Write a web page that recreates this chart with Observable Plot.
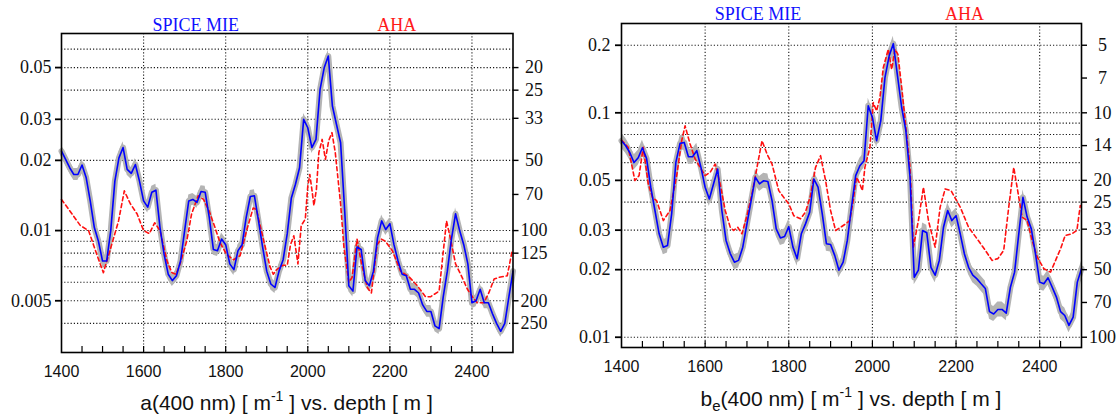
<!DOCTYPE html>
<html><head><meta charset="utf-8">
<script src="https://cdn.jsdelivr.net/npm/d3@7"></script>
<script src="https://cdn.jsdelivr.net/npm/@observablehq/plot@0.6"></script>
<style>
body{margin:0;background:#fff}
#wrap{position:relative;width:1119px;height:417px;overflow:hidden;background:#fff}
.panel{position:absolute;top:0}
.xt{position:absolute;font-family:"Liberation Sans",Arial,sans-serif;font-size:21px;line-height:21px;white-space:nowrap;transform:translateX(-50%);color:#111}
.xt sup{font-size:14px;line-height:0;position:relative;top:-9px;vertical-align:baseline}
.xt sub{font-size:15px;line-height:0;position:relative;top:5px;vertical-align:baseline}
</style></head>
<body>
<div id="wrap">
  <div id="left" class="panel" style="left:0"></div>
  <div id="right" class="panel" style="left:560px"></div>
  <div class="xt" style="left:286.5px;top:392px">a(400 nm) [ m<sup>-1</sup> ] vs. depth [ m ]</div>
  <div class="xt" style="left:851px;top:388px">b<sub>e</sub>(400 nm) [ m<sup>-1</sup> ] vs. depth [ m ]</div>
</div>
<script>
// ---- data ----
const seriesNames = ["SPICE MIE", "AHA"];
const depth = d3.range(1400, 2501, 10);           // SPICE MIE depth grid [m]
const xTicks = [1400, 1600, 1800, 2000, 2200, 2400];
const xGrid = [1600, 1800, 2000, 2200, 2400];
const xMinor = d3.range(1450, 2500, 50);

// left panel: a(400 nm)
const mieA = [
 0.0219,0.0202,0.0186,0.0174,0.0174,0.0191,0.0169,0.0134,0.0103,0.0090,
 0.0074,0.0074,0.0100,0.0163,0.0205,0.0227,0.0183,0.0176,0.0192,0.0163,
 0.0134,0.0126,0.0146,0.0149,0.0103,0.0079,0.0065,0.0061,0.0064,0.0074,
 0.0100,0.0134,0.0136,0.0132,0.0147,0.0146,0.0114,0.0083,0.0082,0.0092,
 0.0087,0.0072,0.0068,0.0082,0.0087,0.0114,0.0140,0.0141,0.0110,0.0085,
 0.0067,0.0059,0.0057,0.0067,0.0075,0.0097,0.0138,0.0158,0.0186,0.0300,
 0.0276,0.0227,0.0246,0.0403,0.0499,0.0560,0.0342,0.0285,0.0238,0.0121,
 0.0058,0.0055,0.0085,0.0083,0.0061,0.0058,0.0067,0.0093,0.0110,0.0101,
 0.0107,0.0087,0.0074,0.0065,0.0064,0.0056,0.0056,0.0054,0.0048,0.0045,
 0.0045,0.0039,0.0038,0.0052,0.0067,0.0092,0.0118,0.0100,0.0087,0.0072,
 0.0049,0.0050,0.0056,0.0049,0.0049,0.0044,0.0040,0.0037,0.0040,0.0052,
 0.0067];
const ahaDepthA = [1400,1418,1446,1466,1486,1502,1518,1539,1553,1568,1584,1600,1614,1627,1640,1657,1669,1679,1689,1705,1717,1733,1746,1760,1774,1786,1802,1819,1835,1851,1867,1875,1891,1908,1916,1924,1940,1950,1958,1966,1976,1984,1994,2000,2005,2010,2015,2021,2027,2035,2043,2051,2059,2067,2080,2088,2100,2108,2120,2131,2145,2155,2169,2179,2189,2206,2226,2248,2267,2287,2299,2320,2338,2349,2360,2376,2389,2401,2413,2429,2441,2454,2466,2486,2498];
const ahaA = [0.0136,0.0123,0.0105,0.0100,0.0079,0.0066,0.0082,0.0110,0.0148,0.0130,0.0118,0.0100,0.0097,0.0108,0.0100,0.0074,0.0066,0.0065,0.0072,0.0090,0.0118,0.0141,0.0136,0.0121,0.0103,0.0089,0.0079,0.0075,0.0078,0.0100,0.0125,0.0123,0.0093,0.0070,0.0065,0.0068,0.0071,0.0071,0.0087,0.0095,0.0072,0.0105,0.0112,0.0155,0.0174,0.0150,0.0128,0.0150,0.0216,0.0246,0.0202,0.0243,0.0263,0.0216,0.0130,0.0085,0.0060,0.0063,0.0092,0.0072,0.0057,0.0054,0.0087,0.0092,0.0090,0.0082,0.0067,0.0063,0.0058,0.0052,0.0052,0.0055,0.0110,0.0090,0.0072,0.0063,0.0056,0.0052,0.0049,0.0049,0.0054,0.0062,0.0063,0.0064,0.0082];
const yTicksA = [0.005, 0.01, 0.02, 0.03, 0.05];
const lenTicksA = [20, 25, 33, 50, 70, 100, 125, 200, 250];
const gridA = [0.004,0.005,0.006,0.007,0.008,0.009,0.01,0.02,0.03,0.04,0.05,0.06];

// right panel: b_e(400 nm)
const mieB = [
 0.0751,0.0713,0.0664,0.0600,0.0631,0.0699,0.0625,0.0466,0.0367,0.0289,
 0.0252,0.0256,0.0355,0.0601,0.0731,0.0738,0.0637,0.0637,0.0678,0.0571,
 0.0466,0.0413,0.0482,0.0562,0.0367,0.0270,0.0236,0.0216,0.0220,0.0252,
 0.0320,0.0406,0.0516,0.0482,0.0498,0.0494,0.0406,0.0304,0.0277,0.0281,
 0.0311,0.0252,0.0224,0.0289,0.0320,0.0361,0.0507,0.0466,0.0355,0.0261,
 0.0259,0.0231,0.0199,0.0216,0.0270,0.0380,0.0525,0.0581,0.0612,0.1074,
 0.0953,0.0751,0.0921,0.1435,0.1790,0.2033,0.1460,0.1056,0.0832,0.0516,
 0.0185,0.0199,0.0299,0.0292,0.0205,0.0189,0.0220,0.0309,0.0367,0.0331,
 0.0348,0.0289,0.0235,0.0205,0.0189,0.0182,0.0173,0.0165,0.0130,0.0127,
 0.0133,0.0133,0.0128,0.0167,0.0195,0.0289,0.0420,0.0343,0.0304,0.0235,
 0.0176,0.0173,0.0184,0.0167,0.0151,0.0130,0.0125,0.0113,0.0123,0.0176,
 0.0202];
const ahaDepthB = [1400,1416,1432,1442,1452,1464,1474,1484,1500,1516,1532,1544,1552,1564,1576,1588,1600,1612,1624,1636,1648,1660,1668,1678,1688,1700,1712,1724,1736,1748,1760,1776,1788,1800,1812,1828,1840,1852,1864,1876,1888,1900,1912,1924,1936,1946,1954,1962,1970,1976,1982,1994,2002,2010,2018,2026,2038,2046,2054,2061,2070,2080,2090,2098,2110,2122,2134,2150,2162,2174,2188,2210,2230,2250,2270,2286,2300,2314,2326,2338,2346,2358,2370,2382,2394,2410,2426,2438,2450,2461,2477,2489,2497];
const ahaB = [0.0756,0.0702,0.0499,0.0525,0.0702,0.0482,0.0420,0.0406,0.0331,0.0367,0.0525,0.0751,0.0875,0.0726,0.0623,0.0571,0.0525,0.0543,0.0591,0.0482,0.0367,0.0309,0.0299,0.0309,0.0289,0.0348,0.0435,0.0571,0.0751,0.0655,0.0591,0.0450,0.0420,0.0393,0.0348,0.0337,0.0361,0.0428,0.0571,0.0644,0.0499,0.0367,0.0299,0.0309,0.0320,0.0331,0.0406,0.0516,0.0482,0.0450,0.0571,0.0702,0.1110,0.1020,0.1170,0.1590,0.1920,0.1560,0.1920,0.1820,0.1300,0.0860,0.0571,0.0252,0.0331,0.0466,0.0331,0.0252,0.0380,0.0458,0.0450,0.0380,0.0309,0.0275,0.0244,0.0220,0.0224,0.0244,0.0380,0.0571,0.0466,0.0343,0.0331,0.0270,0.0228,0.0202,0.0195,0.0220,0.0248,0.0284,0.0289,0.0299,0.0386];
const yTicksB = [0.01, 0.02, 0.03, 0.05, 0.1, 0.2];
const lenTicksB = [5, 7, 10, 14, 20, 25, 33, 50, 70, 100];
const gridB = [0.01,0.02,0.03,0.04,0.05,0.06,0.07,0.08,0.09,0.1,0.2];

// ---- drawing ----
function makePanel(o) {
  const blue = depth.map((d, i) => ({d, v: o.mie[i]}));
  const red = o.ahaDepth.map((d, i) => ({d, v: o.aha[i]}));
  const innerH = o.height - o.mt - o.mb;
  const innerW = o.width - o.ml - o.mr;
  const gridStyle = {stroke: "#000", strokeOpacity: 0.9, strokeDasharray: "1.2,2", strokeWidth: 1.1};
  return Plot.plot({
    width: o.width, height: o.height,
    marginLeft: o.ml, marginRight: o.mr, marginTop: o.mt, marginBottom: o.mb,
    x: {domain: [1400, 2500], axis: null},
    y: {type: "log", domain: o.yDomain, axis: null},
    style: {background: "transparent", overflow: "visible"},
    marks: [
      Plot.gridY(o.grid, gridStyle),
      Plot.gridX(xGrid, gridStyle),
      Plot.areaY(blue, {x: "d", y1: d => d.v / o.band, y2: d => d.v * o.band, fill: "#b4b4b4"}),
      Plot.line(blue, {x: "d", y: "v", stroke: "#b4b4b4", strokeWidth: 6, strokeLinejoin: "round"}),
      Plot.line(red, {x: "d", y: "v", stroke: "#ff1010", strokeWidth: 1.6, strokeDasharray: "4,3"}),
      Plot.line(blue, {x: "d", y: "v", stroke: "#0000ff", strokeWidth: 1.6}),
      Plot.ruleX(xMinor, {x: d => d, insetTop: innerH - 6, stroke: "#000", strokeWidth: 1.2}),
      Plot.frame({stroke: "#000", strokeWidth: 1.6}),
      Plot.axisY(o.yTicks, {anchor: "left", tickSize: 6, tickPadding: o.lpad, strokeWidth: 1.8, fontSize: 18,
        fontFamily: "Liberation Serif", fill: "#111", tickFormat: d => String(d), label: null}),
      // secondary (length) axis on the right: ticks + centred labels
      Plot.tickY(o.lenTicks, {y: t => 1 / t, insetLeft: innerW, insetRight: -6, stroke: "#000", strokeWidth: 1.4}),
      Plot.text(o.lenTicks, {y: t => 1 / t, text: t => String(t), frameAnchor: "right", dx: 21, textAnchor: "middle",
        fontSize: 18, fontFamily: "Liberation Serif", fill: "#111"}),
      Plot.axisX(xTicks, {anchor: "bottom", tickSize: 0, tickPadding: 13.6, fontSize: 16,
        fontFamily: "Liberation Sans", fill: "#111", tickFormat: d => String(d), label: null}),
      Plot.text([seriesNames[0]], {text: d => d, frameAnchor: "top", dx: o.dxMie, dy: o.titleDy, lineAnchor: "bottom",
        fill: "#1010ff", fontSize: 18, fontFamily: "Liberation Serif"}),
      Plot.text([seriesNames[1]], {text: d => d, frameAnchor: "top", dx: o.dxAha, dy: o.titleDy, lineAnchor: "bottom",
        fill: "#ff1a1a", fontSize: 18, fontFamily: "Liberation Serif"})
    ]
  });
}

document.getElementById("left").append(makePanel({
  width: 560, height: 385, ml: 61, mr: 47.5, mt: 33, mb: 33,
  yDomain: [0.003, 0.07], mie: mieA, ahaDepth: ahaDepthA, aha: ahaA,
  yTicks: yTicksA, lenTicks: lenTicksA, grid: gridA, band: 1.06, lpad: 4,
  dxMie: -91.5, dxAha: 109.5, titleDy: -3
}));
document.getElementById("right").append(makePanel({
  width: 559, height: 385, ml: 61, mr: 38, mt: 23, mb: 38,
  yDomain: [0.009, 0.25], mie: mieB, ahaDepth: ahaDepthB, aha: ahaB,
  yTicks: yTicksB, lenTicks: lenTicksB, grid: gridB, band: 1.08, lpad: 5,
  dxMie: -93.5, dxAha: 113, titleDy: -4
}));
</script>
</body></html>
